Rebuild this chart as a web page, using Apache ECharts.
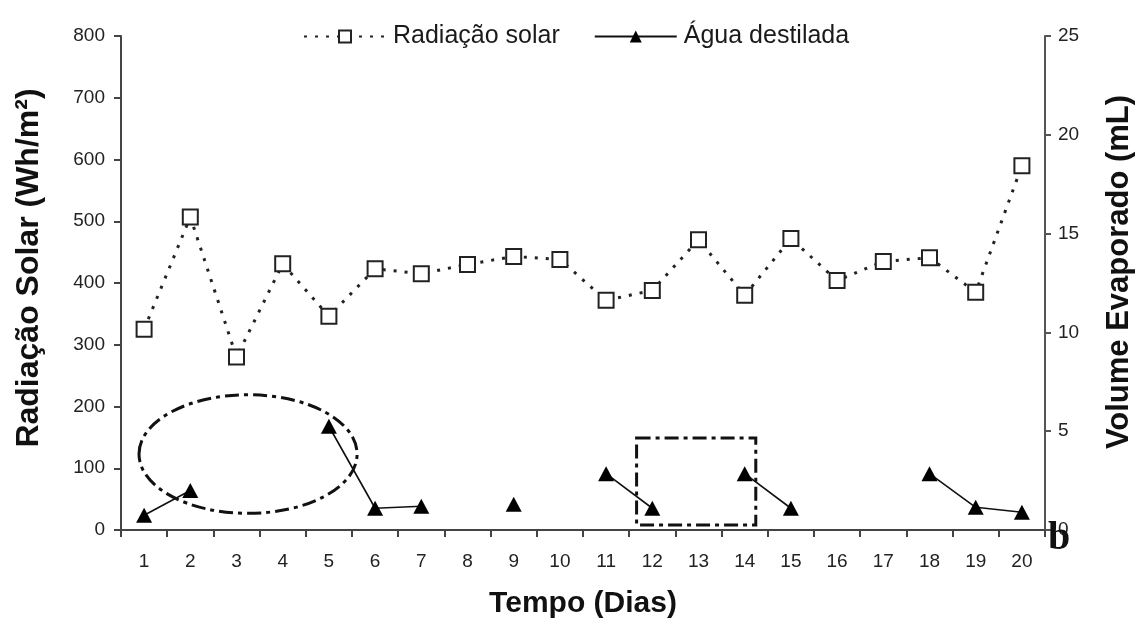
<!DOCTYPE html>
<html>
<head>
<meta charset="utf-8">
<script src="https://cdn.jsdelivr.net/npm/echarts/dist/echarts.min.js"></script>
<style>
html,body{margin:0;padding:0;background:#fff;}
#c{width:1143px;height:624px;}
</style>
</head>
<body>
<div id="c"></div>
<script>
// ---- data ----
const days = ['1','2','3','4','5','6','7','8','9','10','11','12','13','14','15','16','17','18','19','20'];
const radiacaoSolar = [325, 507, 280, 431, 346, 423, 415, 430, 443, 438, 372, 388, 470, 380, 472, 404, 435, 441, 385, 590];
const aguaDestilada = [0.75, 2.0, null, null, 5.25, 1.1, 1.2, null, 1.3, null, 2.85, 1.1, null, 2.85, 1.1, null, null, 2.85, 1.15, 0.9];
const leftTicks = [0, 100, 200, 300, 400, 500, 600, 700, 800];
const rightTicks = [0, 5, 10, 15, 20, 25];
// annotation shapes, in data units (day number, left-axis value)
const ellipseNote = { day: 3.25, value: 123, halfDays: 2.36, halfValue: 96 };
const rectNote = { dayFrom: 11.66, dayTo: 14.24, valueFrom: 8, valueTo: 149 };

const FONT = '"Liberation Sans", Arial, sans-serif';
const chart = echarts.init(document.getElementById('c'), null, { renderer: 'canvas' });

const option = {
  backgroundColor: '#ffffff',
  animation: false,
  legend: {
    left: 298, top: 19,
    itemWidth: 82, itemHeight: 15, itemGap: 34,
    textStyle: { fontFamily: FONT, fontSize: 25, color: '#1a1a1a', padding: [0, 0, 0, 2] },
    data: ['Radiação solar', 'Água destilada']
  },
  grid: { left: 121, right: 96, top: 36, bottom: 92, containLabel: false },
  xAxis: {
    type: 'category', data: days, boundaryGap: true,
    axisLine: { lineStyle: { color: '#444', width: 2 } },
    axisTick: { show: true, alignWithLabel: false, length: 7, lineStyle: { color: '#444', width: 2 } },
    axisLabel: { fontFamily: FONT, fontSize: 19, color: '#222', margin: 22, interval: 0 },
    name: 'Tempo (Dias)', nameLocation: 'middle', nameGap: 59,
    nameTextStyle: { fontFamily: FONT, fontSize: 30, fontWeight: 'bold', color: '#111' },
    splitLine: { show: false }
  },
  yAxis: [
    {
      type: 'value', min: leftTicks[0], max: leftTicks[leftTicks.length - 1], interval: 100,
      position: 'left',
      axisLine: { show: true, lineStyle: { color: '#444', width: 2 } },
      axisTick: { show: true, length: 7, lineStyle: { color: '#444', width: 2 } },
      axisLabel: { fontFamily: FONT, fontSize: 19, color: '#222', margin: 16 },
      splitLine: { show: false },
      name: 'Radiação Solar (Wh/m²)', nameLocation: 'middle', nameGap: 76, nameRotate: 90,
      nameTextStyle: { fontFamily: FONT, fontSize: 32, fontWeight: 'bold', color: '#111', padding: [0, 0, 0, 30] }
    },
    {
      type: 'value', min: rightTicks[0], max: rightTicks[rightTicks.length - 1], interval: 5,
      position: 'right',
      axisLine: { show: true, lineStyle: { color: '#555', width: 2 } },
      axisTick: { show: true, length: 6, lineStyle: { color: '#555', width: 2 } },
      axisLabel: { fontFamily: FONT, fontSize: 19, color: '#222', margin: 13 },
      splitLine: { show: false },
      name: 'Volume Evaporado (mL)', nameLocation: 'middle', nameGap: 59, nameRotate: 90,
      nameTextStyle: { fontFamily: FONT, fontSize: 31, fontWeight: 'bold', color: '#111', padding: [0, 0, 0, 22] }
    }
  ],
  series: [
    {
      name: 'Radiação solar', type: 'line', yAxisIndex: 0, data: radiacaoSolar,
      symbol: 'rect', symbolSize: 15,
      itemStyle: { color: '#ffffff', borderColor: '#222', borderWidth: 2 },
      lineStyle: { color: '#222', width: 3, type: [3, 8], cap: 'butt' },
      z: 3
    },
    {
      name: 'Água destilada', type: 'line', yAxisIndex: 1, data: aguaDestilada,
      connectNulls: false,
      symbol: 'triangle', symbolSize: [16, 15],
      itemStyle: { color: '#000' },
      lineStyle: { color: '#111', width: 1.6 },
      z: 4
    }
  ]
};
chart.setOption(option);

// place annotation shapes using the chart's own coordinate system
function dayToX(day) {
  const p0 = chart.convertToPixel({ xAxisIndex: 0 }, 0);
  const p1 = chart.convertToPixel({ xAxisIndex: 0 }, 1);
  return p0 + (day - 1) * (p1 - p0);
}
function valToY(v) {
  return chart.convertToPixel({ yAxisIndex: 0 }, v);
}
const dash = [14, 5, 4, 5];
const ex = dayToX(ellipseNote.day);
const ey = valToY(ellipseNote.value);
const erx = dayToX(ellipseNote.day + ellipseNote.halfDays) - ex;
const ery = ey - valToY(ellipseNote.value + ellipseNote.halfValue);
const rx1 = dayToX(rectNote.dayFrom), rx2 = dayToX(rectNote.dayTo);
const ry1 = valToY(rectNote.valueTo), ry2 = valToY(rectNote.valueFrom);
const rightAxisX = chart.convertToPixel({ xAxisIndex: 0 }, 19) + (dayToX(2) - dayToX(1)) / 2;
const zeroY = valToY(0);

chart.setOption({
  graphic: [
    {
      type: 'ellipse', z: 10,
      shape: { cx: ex, cy: ey, rx: erx, ry: ery },
      style: { fill: 'none', stroke: '#111', lineWidth: 3, lineDash: dash }
    },
    {
      type: 'rect', z: 10,
      shape: { x: rx1, y: ry1, width: rx2 - rx1, height: ry2 - ry1 },
      style: { fill: 'none', stroke: '#111', lineWidth: 3, lineDash: dash }
    },
    {
      type: 'text', z: 20,
      x: rightAxisX + 3, y: zeroY + 29,
      style: { text: 'b', font: 'bold 40px "Liberation Serif", "DejaVu Serif", serif', fill: '#111', textVerticalAlign: 'bottom' }
    }
  ]
});
</script>
</body>
</html>
